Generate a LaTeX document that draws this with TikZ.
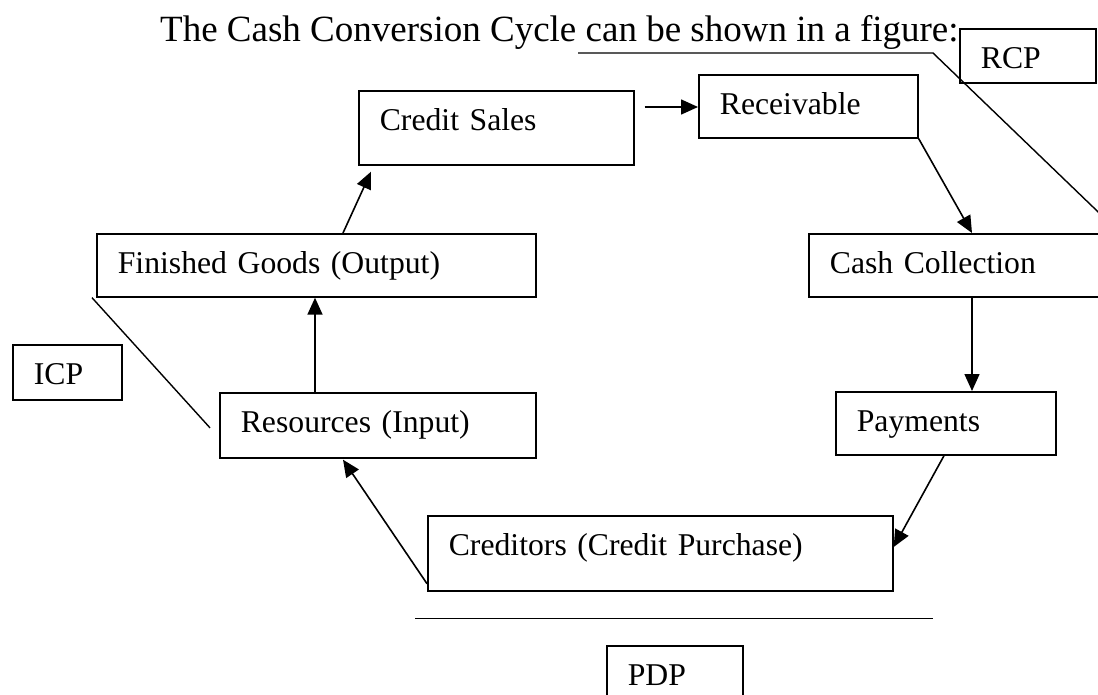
\documentclass[tikz,border=0pt]{standalone}
\usepackage{fontspec}
\setmainfont{Liberation Serif}
\usetikzlibrary{arrows.meta,calc}
\tikzset{
  box/.style={draw, line width=1.7pt, anchor=north west, inner xsep=21pt, inner ysep=0pt,
    text height=40pt, align=left, font=\fontsize{31.7}{38}\selectfont},
  arr/.style={line width=1.6pt, -{Triangle[length=17pt,width=15pt]}},
  pointer/.style={line width=1.4pt}
}
\begin{document}
\begin{tikzpicture}[x=1pt,y=-1pt]
\useasboundingbox (0,0) rectangle (1098,695);
\clip (0,0) rectangle (1098,695);
\node[anchor=base west, inner sep=0pt, font=\fontsize{37}{44}\selectfont] (title) at (160,42)
  {The Cash Conversion Cycle can be shown in a figure:};
% the cycle
\node[box, text width=233pt, text depth=34pt] (credit) at (358,90) {Credit Sales};
\node[box, text width=177pt, text depth=23pt] (recv) at (698,74) {Receivable};
\node[box, text width=258pt, text depth=23pt] (cash) at (808,233) {Cash Collection};
\node[box, text width=178pt, text depth=23pt] (pay) at (835,391) {Payments};
\node[box, text width=423pt, text depth=35pt] (cred) at (427,515) {Creditors (Credit Purchase)};
\node[box, text width=274pt, text depth=25pt] (res) at (219,392) {Resources (Input)};
\node[box, text width=397pt, text depth=23pt] (fin) at (96,233) {Finished Goods (Output)};
% period labels
\node[box, text width=67pt, text depth=15pt] (icp) at (12,344) {ICP};
\node[box, text width=94pt, text depth=14pt] (rcp) at (959,28) {RCP};
\node[box, text width=94pt, text depth=22pt] (pdp) at (606,645) {PDP};
\draw[arr] ($(fin.north west)+(247,0)$) -- ($(credit.south west)+(13,6)$);
\draw[arr] ($(credit.north east)+(10,17)$) -- ($(recv.north west)+(0,33)$);
\draw[arr] (recv.south east) -- ($(cash.north west)+(164,0)$);
\draw[arr] ($(cash.south west)+(164,0)$) -- ($(pay.north west)+(137,0)$);
\draw[arr] ($(pay.south west)+(109,0)$) -- ($(cred.north east)+(0,32)$);
\draw[arr] ($(cred.south west)+(0,-8)$) -- ($(res.south west)+(124,1)$);
\draw[arr] ($(res.north west)+(96,0)$) -- ($(fin.south west)+(219,0)$);
\draw[pointer] ($(fin.south west)+(-4,0)$) -- ($(res.west)+(-9,2.5)$);
\draw[pointer] ($(title.base west)+(418,11)$) -- ++(355,0) -- ++(187,180);
\draw[pointer] ($(cred.south west)+(-12,27)$) -- ++(518,0);
\end{tikzpicture}
\end{document}
